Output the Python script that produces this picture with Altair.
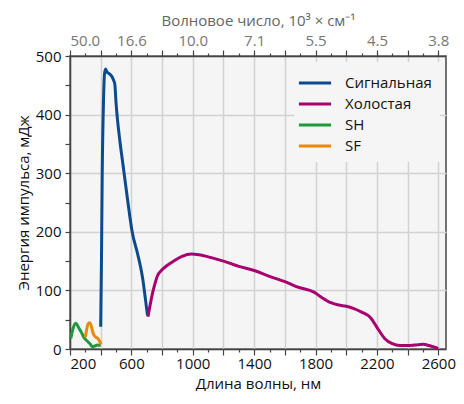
import altair as alt
import pandas as pd

# Signal (Сигнальная)
sig_nm = [400, 405, 410, 418, 425, 432, 440, 455, 470, 482, 492, 500, 510, 525, 545, 575, 605, 640, 660, 675, 690, 705]
sig_e = [38, 150, 300, 420, 470, 478, 473, 470, 466, 460, 452, 420, 390, 355, 315, 255, 200, 163, 140, 118, 88, 57]

# Idler (Холостая)
idl_nm = [708, 720, 735, 750, 770, 795, 830, 870, 930, 990, 1040, 1120, 1200, 1300, 1400, 1500, 1600, 1680,
          1790, 1840, 1900, 1950, 2000, 2050, 2100, 2160, 2200, 2250, 2300, 2350, 2400, 2450, 2500, 2550, 2600]
idl_e = [55, 72, 92, 108, 125, 134, 142, 149, 158, 162, 161, 156, 150, 141, 134, 124, 115, 106,
         97, 88, 79, 75, 73, 69, 63, 53, 37, 18, 9, 6, 6, 7, 8, 5, 1]

# SH
sh_nm = [205, 220, 238, 255, 275, 290, 310, 330, 345, 360, 380, 400]
sh_e = [18, 35, 44, 37, 28, 20, 14, 9, 4, 5, 7, 6]

# SF
sf_nm = [300, 310, 318, 328, 338, 345, 355, 370, 385, 395, 402]
sf_e = [20, 35, 43, 45, 40, 32, 24, 20, 17, 12, 8]

series = ["Сигнальная", "Холостая", "SH", "SF"]
colors = ["#0b4a8c", "#a8006e", "#1f9a3a", "#e8890c"]

rows = []
for name, xs, ys in [("Сигнальная", sig_nm, sig_e), ("Холостая", idl_nm, idl_e),
                     ("SH", sh_nm, sh_e), ("SF", sf_nm, sf_e)]:
    for i, (a, b) in enumerate(zip(xs, ys)):
        rows.append({"nm": a, "E": b, "series": name, "order": i})
df = pd.DataFrame(rows)

x_ticks = list(range(200, 2601, 100))
y_ticks = list(range(0, 501, 50))
xdomain = [200, 2650]

FONT = "Open Sans"

xscale = alt.Scale(domain=xdomain, nice=False, zero=False)
yscale = alt.Scale(domain=[0, 500], nice=False)

bottom_axis = alt.Axis(
    orient="bottom", title="Длина волны, нм", values=x_ticks,
    labelExpr="datum.value % 400 === 200 ? datum.value : ''",
    labelOverlap=False, labelFontSize=15, labelColor="#111", titleFontSize=15,
    titleColor="#111", titleFontWeight="normal",
    tickSize={"condition": {"test": "datum.value % 200 === 0", "value": 6}, "value": 3},
    gridOpacity={"condition": {"test": "datum.value % 200 === 0", "value": 1}, "value": 0},
    grid=True, gridColor="#d2d2d2", gridWidth=1.5,
    domainColor="#444", domainWidth=1.5, tickColor="#444", tickWidth=1.2,
    labelPadding=1, titlePadding=5,
)

top_axis = alt.Axis(
    orient="top", title="Волновое число, 10³ × см⁻¹", values=x_ticks,
    labelExpr="datum.value % 400 === 200 ? format(floor(100000 / datum.value) / 10, '.1f') : ''",
    labelOverlap=False, labelFontSize=15, labelColor="#777", titleFontSize=15,
    titleColor="#666", titleFontWeight="normal",
    tickSize={"condition": {"test": "datum.value % 200 === 0", "value": 6}, "value": 3},
    grid=False, domainColor="#444", domainWidth=1.5, tickColor="#444", tickWidth=1.2,
    labelPadding=2, titlePadding=5,
)

y_axis = alt.Axis(
    title="Энергия импульса, мДж", values=y_ticks,
    labelExpr="datum.value % 100 === 0 ? datum.value : ''",
    labelOverlap=False, labelFontSize=15, labelColor="#111", titleFontSize=15,
    titleColor="#111", titleFontWeight="normal",
    tickSize=5,
    gridOpacity={"condition": {"test": "datum.value % 100 === 0", "value": 1}, "value": 0},
    grid=True, gridColor="#d2d2d2", gridWidth=1.5,
    domainColor="#444", domainWidth=1.5, tickColor="#444", tickWidth=1.2,
    labelPadding=4, titlePadding=4,
)

lines = alt.Chart(df).mark_line(strokeWidth=3, interpolate="monotone").encode(
    x=alt.X("nm:Q", scale=xscale, axis=bottom_axis),
    y=alt.Y("E:Q", scale=yscale, axis=y_axis),
    color=alt.Color("series:N", scale=alt.Scale(domain=series, range=colors),
                    sort=series,
                    legend=alt.Legend(title=None, orient="top-right", offset=6,
                                      fillColor="#f5f5f5", padding=8,
                                      symbolType="M-1.4,0H1.4", symbolStrokeWidth=3,
                                      symbolFillColor="transparent",
                                      symbolSize=529, labelFontSize=15,
                                      labelColor="#111", rowPadding=0,
                                      labelOffset=17)),
    detail="series:N",
    order="order:Q",
)

top = alt.Chart(df).mark_line(opacity=0).encode(
    x=alt.X("nm:Q", scale=xscale, axis=top_axis),
    y=alt.Y("E:Q", scale=yscale, axis=y_axis),
)

chart = alt.layer(lines, top).resolve_axis(x="independent").properties(
    width=376, height=293,
    padding={"left": 8, "top": 5, "right": 0, "bottom": 0},
).configure(font=FONT).configure_view(fill="#f5f5f5", stroke="#444", strokeWidth=1.5)

chart.save("out.html", embed_options={"renderer": "svg", "actions": False})
